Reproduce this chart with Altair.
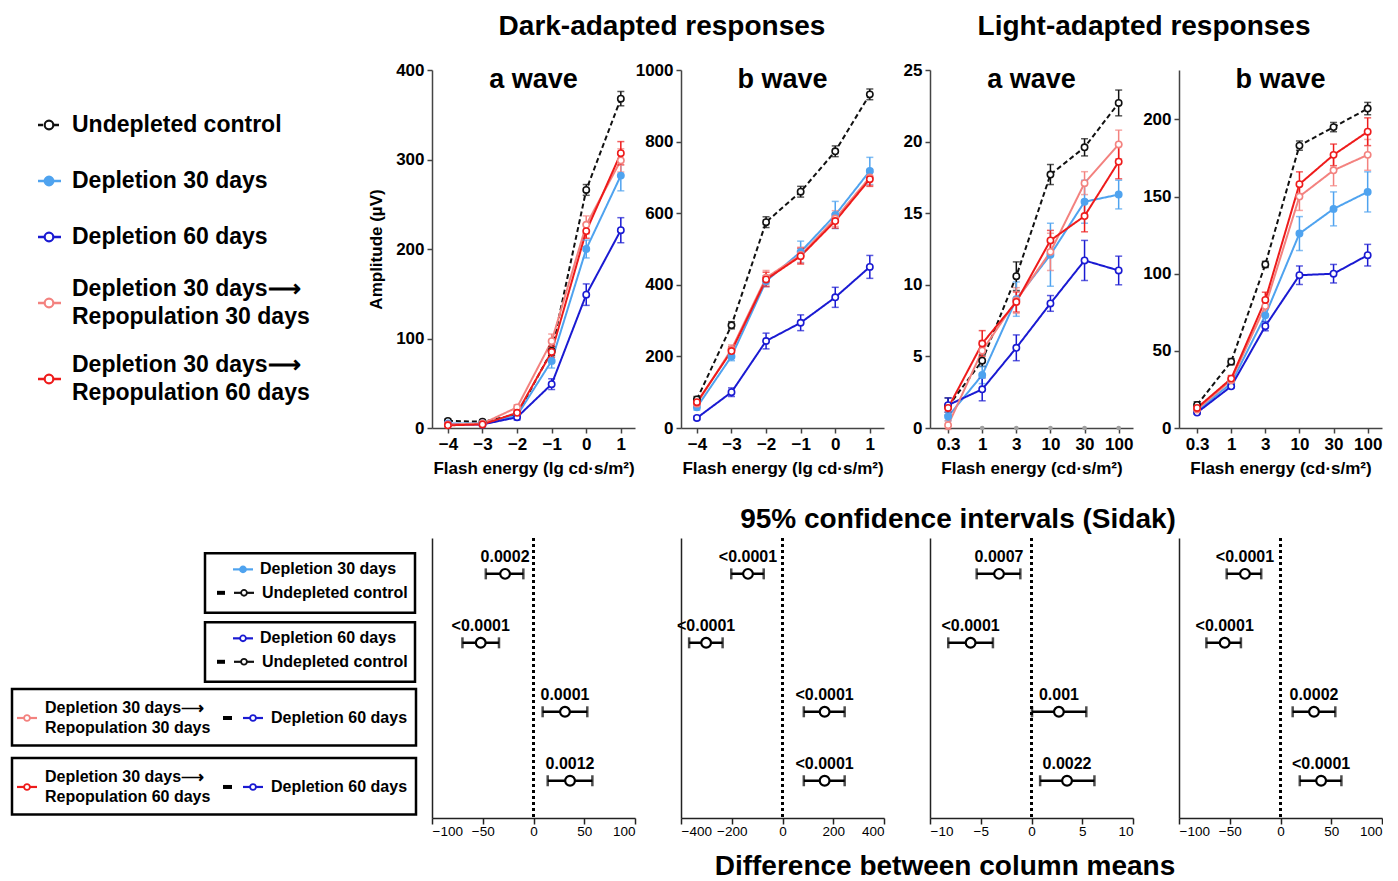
import json
import altair as alt
import pandas as pd

FONT = "Liberation Sans"
ARROW = "\u27f6"

# ---------------- series definitions ----------------
series_keys = ["ctrl", "d30", "d60", "r30", "r60"]
series_names = ["Undepleted control", "Depletion 30 days", "Depletion 60 days",
                "Depletion 30 days" + ARROW + "\nRepopulation 30 days",
                "Depletion 30 days" + ARROW + "\nRepopulation 60 days"]
series_colors = ["#111111", "#4fa3ef", "#1a1ad2", "#f3827f", "#ee1b1b"]
series_fills = ["#ffffff", "#4fa3ef", "#ffffff", "#ffffff", "#ffffff"]
series_dash = [[5, 3], [1, 0], [1, 0], [1, 0], [1, 0]]

dark_x = [-4, -3, -2, -1, 0, 1]
light_x_labels = ["0.3", "1", "3", "10", "30", "100"]

# Dark-adapted a-wave (uV) mean / SEM
dark_a_mean = {"ctrl": [8, 7, 15, 86, 266, 368], "d30": [5, 5, 14, 75, 200, 282],
               "d60": [4, 4, 12, 49, 149, 221], "r30": [4, 5, 23, 97, 227, 299],
               "r60": [3, 4, 17, 85, 220, 307]}
dark_a_sem = {"ctrl": [2, 2, 2, 5, 6, 8], "d30": [2, 2, 3, 8, 10, 17],
              "d60": [1, 1, 3, 6, 12, 14], "r30": [1, 1, 3, 8, 10, 13],
              "r60": [1, 1, 2, 6, 8, 13]}
# Dark-adapted b-wave
dark_b_mean = {"ctrl": [80, 287, 575, 660, 773, 932], "d30": [58, 200, 410, 492, 595, 718],
               "d60": [28, 100, 243, 294, 365, 450], "r30": [68, 220, 420, 483, 585, 700],
               "r60": [72, 215, 415, 480, 578, 695]}
dark_b_sem = {"ctrl": [8, 10, 15, 15, 15, 15], "d30": [8, 12, 15, 30, 38, 38],
              "d60": [5, 12, 22, 22, 28, 32], "r30": [8, 12, 20, 22, 22, 22],
              "r60": [8, 12, 20, 22, 20, 20]}
# Light-adapted a-wave
light_a_mean = {"ctrl": [1.5, 4.7, 10.6, 17.7, 19.6, 22.7], "d30": [0.8, 3.7, 9.0, 12.1, 15.8, 16.3],
                "d60": [1.6, 2.7, 5.6, 8.7, 11.7, 11.0], "r30": [0.2, 5.4, 8.9, 12.3, 17.1, 19.8],
                "r60": [1.4, 5.9, 8.8, 13.1, 14.8, 18.6]}
light_a_sem = {"ctrl": [0.6, 0.4, 1.0, 0.7, 0.6, 0.9], "d30": [0.3, 0.6, 1.2, 2.2, 1.5, 1.0],
               "d60": [0.5, 0.8, 0.9, 0.55, 1.4, 1.0], "r30": [0.3, 0.7, 0.9, 1.3, 0.8, 1.0],
               "r60": [0.3, 0.9, 0.7, 0.7, 1.1, 1.2]}
light_a_zero = [0, 0, 0, 0, 0, 0]
# Light-adapted b-wave
light_b_mean = {"ctrl": [15, 43, 106, 183, 195, 207], "d30": [11, 29, 73, 126, 142, 153],
                "d60": [10, 27, 66, 99, 100, 112], "r30": [12, 31, 79, 150, 167, 177],
                "r60": [13, 32, 83, 158, 177, 192]}
light_b_sem = {"ctrl": [2, 2, 2, 3, 3, 4], "d30": [1, 2, 5, 11, 11, 13],
               "d60": [1, 1, 3, 6, 6, 7], "r30": [1, 2, 5, 9, 10, 10],
               "r60": [1, 2, 5, 8, 7, 9]}

# 95% CI (Sidak) panels
ci_p = [["0.0002", "<0.0001", "0.0001", "0.0012"],
        ["<0.0001", "<0.0001", "<0.0001", "<0.0001"],
        ["0.0007", "<0.0001", "0.001", "0.0022"],
        ["<0.0001", "<0.0001", "0.0002", "<0.0001"]]
ci_mean = [[-28, -52, 31, 36], [-136, -301, 166, 166], [-3.2, -6.0, 2.7, 3.5], [-35, -55, 33, 40]]
ci_lo = [[-47, -70, 9, 14], [-202, -368, 84, 84], [-5.4, -8.2, 0.05, 0.85], [-53, -73, 12, 19]]
ci_hi = [[-10, -34, 53, 58], [-74, -236, 245, 245], [-1.1, -3.8, 5.4, 6.2], [-19, -39, 54, 60]]
ci_domains = [[-100, 100], [-400, 400], [-10, 10], [-100, 100]]
ci_ticks = [[-100, -50, 0, 50, 100], [-400, -200, 0, 200, 400], [-10, -5, 0, 5, 10], [-100, -50, 0, 50, 100]]

# comparison legend boxes
box_top_keys = ["d30", "d60", "r30", "r60"]
box_top_labels = ["Depletion 30 days", "Depletion 60 days",
                  "Depletion 30 days" + ARROW + "\nRepopulation 30 days",
                  "Depletion 30 days" + ARROW + "\nRepopulation 60 days"]
box_ref_keys = ["ctrl", "ctrl", "d60", "d60"]
box_ref_labels = ["Undepleted control", "Undepleted control", "Depletion 60 days", "Depletion 60 days"]
box_kind = ["A", "A", "B", "B"]

# titles
title_dark = "Dark-adapted responses"
title_light = "Light-adapted responses"
title_ci = "95%  confidence intervals (Sidak)"
title_diff = "Difference between  column means"

# ---------------- scales ----------------
color_scale = alt.Scale(domain=series_keys, range=series_colors)
fill_scale = alt.Scale(domain=series_keys, range=series_fills)
dash_scale = alt.Scale(domain=series_keys, range=series_dash)

PW, PH = 203, 358
CW, CH = 203, 280
LW = 378
GAP = 46


def text_layer(txt, x, y, size=28, baseline="middle"):
    return alt.Chart(pd.DataFrame({"t": [txt]})).mark_text(
        font=FONT, fontSize=size, fontWeight="bold", baseline=baseline, color="black").encode(
        x=alt.value(x), y=alt.value(y), text="t:N")


def long_df(means, sems, xs):
    rows = []
    for k in series_keys:
        for xi, m, s in zip(xs, means[k], sems[k]):
            rows.append({"key": k, "x": xi, "y": m, "err": s})
    return pd.DataFrame(rows)


def panel(df, xdomain, xvalues, ydomain, yvalues, title, ytitle=None, xtitle="", label_expr=None,
          zeros=None, extra=()):
    ax_kw = dict(values=xvalues, title=xtitle, tickSize=5, labelPadding=3, titlePadding=8)
    if label_expr:
        ax_kw["labelExpr"] = label_expr
    else:
        ax_kw["format"] = "d"
    xaxis = alt.Axis(**ax_kw)
    xs = alt.Scale(domain=xdomain, nice=False, zero=False)
    ys = alt.Scale(domain=ydomain, nice=False)
    yaxis = alt.Axis(values=yvalues, title=ytitle, format="d", tickSize=5, labelPadding=3, titlePadding=10)
    x = alt.X("x:Q", scale=xs, axis=xaxis)
    base = alt.Chart(df)
    lines = base.mark_line(strokeWidth=2).encode(
        x=x, y=alt.Y("y:Q", scale=ys, axis=yaxis),
        color=alt.Color("key:N", scale=color_scale, legend=None),
        strokeDash=alt.StrokeDash("key:N", scale=dash_scale, legend=None),
    )
    errs = base.transform_calculate(lo="datum.y - datum.err", hi="datum.y + datum.err").mark_errorbar(
        ticks=True, size=7, thickness=1.5).encode(
        x=x, y=alt.Y("lo:Q", scale=ys, axis=yaxis), y2="hi:Q",
        color=alt.Color("key:N", scale=color_scale, legend=None),
    )
    pts = base.mark_point(shape="circle", filled=True, size=40, strokeWidth=1.6, opacity=1).encode(
        x=x, y=alt.Y("y:Q", scale=ys, axis=yaxis),
        stroke=alt.Stroke("key:N", scale=color_scale, legend=None),
        fill=alt.Fill("key:N", scale=fill_scale, legend=None),
    )
    layers = [lines, errs, pts]
    if zeros is not None:
        zdf = pd.DataFrame({"x": list(range(len(zeros))), "y": zeros})
        layers.insert(0, alt.Chart(zdf).mark_point(shape="circle", filled=True, size=22, color="#a0a0a0",
                                                    opacity=1).encode(x=x, y=alt.Y("y:Q", scale=ys, axis=yaxis)))
    layers.append(text_layer(title, PW / 2, 18, size=27, baseline="alphabetic"))
    layers.extend(extra)
    return alt.layer(*layers).properties(width=PW, height=PH)


light_idx = list(range(len(light_x_labels)))
label_expr = json.dumps(light_x_labels) + "[datum.value]"

p1 = panel(long_df(dark_a_mean, dark_a_sem, dark_x), [-4.46, 1.41], dark_x, [0, 400], [0, 100, 200, 300, 400],
           "a wave", ytitle="Amplitude (\u00b5V)", xtitle="Flash energy (lg cd\u00b7s/m\u00b2)",
           extra=[text_layer(title_dark, PW + GAP / 2 + 4, -43)])
p2 = panel(long_df(dark_b_mean, dark_b_sem, dark_x), [-4.46, 1.41], dark_x, [0, 1000], [0, 200, 400, 600, 800, 1000],
           "b wave", xtitle="Flash energy (lg cd\u00b7s/m\u00b2)")
p3 = panel(long_df(light_a_mean, light_a_sem, light_idx), [-0.53, 5.42], light_idx, [0, 25], [0, 5, 10, 15, 20, 25],
           "a wave", xtitle="Flash energy (cd\u00b7s/m\u00b2)", label_expr=label_expr, zeros=light_a_zero,
           extra=[text_layer(title_light, PW + 11, -43)])
p4 = panel(long_df(light_b_mean, light_b_sem, light_idx), [-0.53, 5.42], light_idx, [0, 232], [0, 50, 100, 150, 200],
           "b wave", xtitle="Flash energy (cd\u00b7s/m\u00b2)", label_expr=label_expr)

# ---------------- top-left legend ----------------
LEG_LH = 28
n_lines = [s.count("\n") + 1 for s in series_names]
pos = []
cur = 55
for i, n in enumerate(n_lines):
    if i > 0:
        cur += 46 + 10 * (n_lines[i - 1] + n - 1)
    pos.append(cur)
leg_df = pd.DataFrame({"key": series_keys, "label": series_names, "pos": pos, "nl": n_lines})
ly_scale = alt.Scale(domain=[PH, 0], nice=False, zero=False)
ly = alt.Y("pos:Q", scale=ly_scale, axis=None)
lbase = alt.Chart(leg_df)
top_legend = alt.layer(
    lbase.mark_rule(strokeWidth=2.5).encode(
        x=alt.value(30), x2=alt.value(53), y=ly,
        color=alt.Color("key:N", scale=color_scale, legend=None),
        strokeDash=alt.StrokeDash("key:N", scale=dash_scale, legend=None)),
    lbase.mark_point(shape="circle", filled=True, size=75, strokeWidth=2.2, opacity=1).encode(
        x=alt.value(41), y=ly,
        stroke=alt.Stroke("key:N", scale=color_scale, legend=None),
        fill=alt.Fill("key:N", scale=fill_scale, legend=None)),
    lbase.transform_calculate(tpos=f"datum.pos - (datum.nl - 1) * {LEG_LH / 2}").mark_text(
        align="left", baseline="middle", font=FONT, fontSize=23, fontWeight="bold",
        lineBreak="\n", lineHeight=LEG_LH, color="black").encode(
        x=alt.value(64), y=alt.Y("tpos:Q", scale=ly_scale, axis=None), text="label:N"),
).properties(width=LW, height=PH)

# ---------------- CI panels ----------------
row_scale = alt.Scale(domain=[-0.52, 3.54], reverse=True, nice=False, zero=False)


def ci_panel(i, extra=()):
    df = pd.DataFrame({"row": [0, 1, 2, 3], "mean": ci_mean[i], "lo": ci_lo[i], "hi": ci_hi[i], "p": ci_p[i]})
    xs = alt.Scale(domain=ci_domains[i], nice=False, zero=False)
    xaxis = alt.Axis(values=ci_ticks[i], title=None, labelFontWeight="normal", labelFontSize=13.5,
                     tickSize=6, labelPadding=0, domainColor="#222", tickColor="#222", domainWidth=1.5)
    y = alt.Y("row:Q", scale=row_scale,
              axis=alt.Axis(title=None, labels=False, ticks=False, domainColor="#222", domainWidth=1.5))
    base = alt.Chart(df)
    zero = alt.Chart(pd.DataFrame({"z": [0]})).mark_rule(strokeDash=[3, 3], strokeWidth=3, color="black").encode(
        x=alt.X("z:Q", scale=xs, axis=xaxis))
    bars = base.mark_errorbar(ticks=True, size=11, thickness=2.5, color="black").encode(
        x=alt.X("lo:Q", scale=xs, axis=xaxis), x2="hi:Q", y=y)
    pts = base.mark_point(shape="circle", filled=True, fill="white", stroke="black", strokeWidth=2.2,
                          size=95, opacity=1).encode(x=alt.X("mean:Q", scale=xs, axis=xaxis), y=y)
    txt = base.mark_text(dy=-17, font=FONT, fontSize=16, fontWeight="bold", color="black").encode(
        x=alt.X("mean:Q", scale=xs, axis=xaxis), y=y, text="p:N")
    return alt.layer(zero, bars, pts, txt, *extra).properties(width=CW, height=CH)


c_panels = [ci_panel(0),
            ci_panel(1, extra=[text_layer(title_ci, 277, -18), text_layer(title_diff, 264, 329)]),
            ci_panel(2), ci_panel(3)]

# ---------------- comparison legend boxes ----------------
bdf = pd.DataFrame({"row": [0, 1, 2, 3], "kind": box_kind,
                    "tkey": box_top_keys, "tlab": box_top_labels,
                    "rkey": box_ref_keys, "rlab": box_ref_labels})


def by(f):
    return alt.Y(f, scale=row_scale, axis=None)


bA = alt.Chart(bdf).transform_filter(alt.datum.kind == "A").transform_calculate(
    y0="datum.row - 0.30", y1="datum.row + 0.565", l1="datum.row - 0.065", l2="datum.row + 0.275")
bB = alt.Chart(bdf).transform_filter(alt.datum.kind == "B").transform_calculate(
    y0="datum.row - 0.33", y1="datum.row + 0.49", lc="datum.row + 0.09")
BOX_LH = 20
txt_kw = dict(align="left", baseline="middle", font=FONT, fontSize=16, fontWeight="bold",
              lineBreak="\n", lineHeight=BOX_LH, color="black")
sym_pt = dict(shape="circle", filled=True, size=34, strokeWidth=1.8, opacity=1)


def sym(base, yf, keyf, cx):
    return [
        base.mark_rule(strokeWidth=2.2).encode(x=alt.value(cx - 10), x2=alt.value(cx + 10), y=by(yf),
                                               color=alt.Color(keyf, scale=color_scale, legend=None)),
        base.mark_point(**sym_pt).encode(x=alt.value(cx), y=by(yf),
                                         stroke=alt.Stroke(keyf, scale=color_scale, legend=None),
                                         fill=alt.Fill(keyf, scale=fill_scale, legend=None)),
    ]


box_layers = [
    bA.mark_rect(filled=False, stroke="black", strokeWidth=2.5).encode(
        x=alt.value(197), x2=alt.value(407), y=by("y0:Q"), y2="y1:Q"),
    bB.mark_rect(filled=False, stroke="black", strokeWidth=2.5).encode(
        x=alt.value(4), x2=alt.value(408), y=by("y0:Q"), y2="y1:Q"),
    *sym(bA, "l1:Q", "tkey:N", 235),
    bA.mark_text(**txt_kw).encode(x=alt.value(252), y=by("l1:Q"), text="tlab:N"),
    bA.mark_rule(strokeWidth=4, color="black").encode(x=alt.value(209), x2=alt.value(217), y=by("l2:Q")),
    *sym(bA, "l2:Q", "rkey:N", 236),
    bA.mark_text(**txt_kw).encode(x=alt.value(254), y=by("l2:Q"), text="rlab:N"),
    *sym(bB, "lc:Q", "tkey:N", 19),
    bB.mark_text(dy=-BOX_LH / 2, **txt_kw).encode(x=alt.value(37), y=by("lc:Q"), text="tlab:N"),
    bB.mark_rule(strokeWidth=4, color="black").encode(x=alt.value(215), x2=alt.value(224), y=by("lc:Q")),
    *sym(bB, "lc:Q", "rkey:N", 245),
    bB.mark_text(**txt_kw).encode(x=alt.value(263), y=by("lc:Q"), text="rlab:N"),
]
box_legend = alt.layer(*box_layers).properties(width=LW, height=CH)

# ---------------- layout ----------------
chart = alt.concat(
    top_legend, p1, p2, p3, p4,
    box_legend, *c_panels,
    columns=5, spacing={"row": 110, "column": GAP}, bounds="flush",
).properties(
    padding={"left": 0, "top": 5, "right": 0, "bottom": 0}
).configure_view(stroke=None).configure_axis(
    labelFont=FONT, titleFont=FONT, labelFontWeight="bold", titleFontWeight="bold",
    labelFontSize=17, titleFontSize=17, labelColor="black", titleColor="black",
    domainColor="#444", tickColor="#444", domainWidth=1.5, tickWidth=1.5, grid=False
)

chart.save("out.html", embed_options={"renderer": "svg", "actions": False})
